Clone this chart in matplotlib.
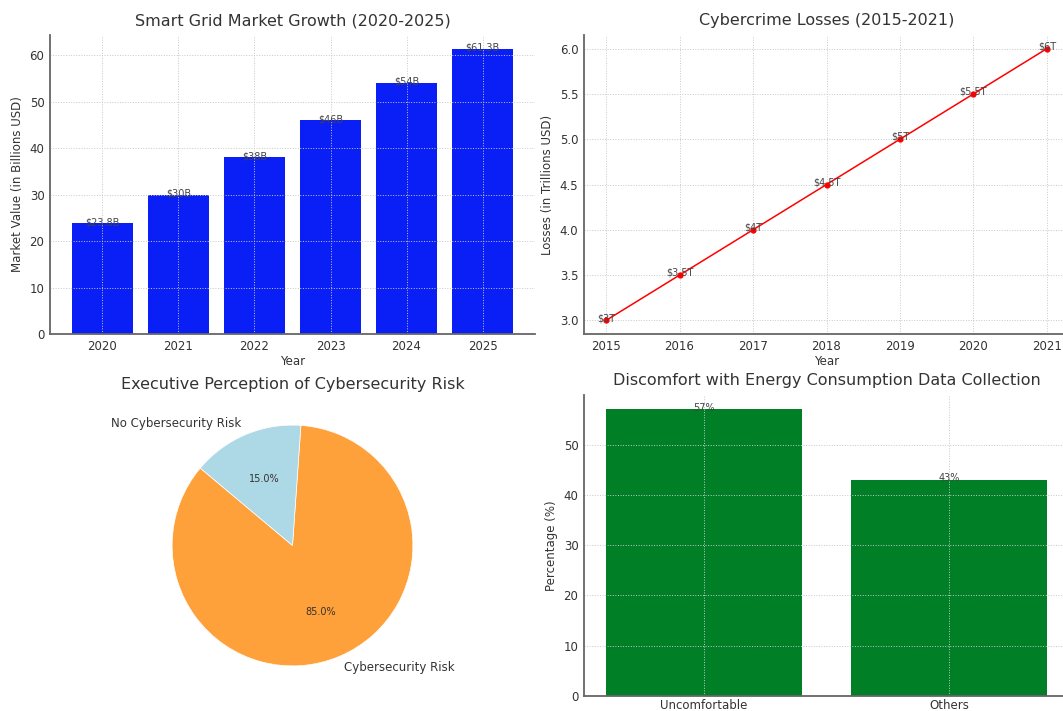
import numpy as np
import matplotlib
matplotlib.use("Agg")
import matplotlib.pyplot as plt

# data
market_years = ['2020', '2021', '2022', '2023', '2024', '2025']
market_values = [23.8, 30, 38, 46, 54, 61.3]
market_labels = ['$23.8B', '$30B', '$38B', '$46B', '$54B', '$61.3B']

loss_years = [2015, 2016, 2017, 2018, 2019, 2020, 2021]
loss_values = [3.0, 3.5, 4.0, 4.5, 5.0, 5.5, 6.0]
loss_labels = ['$3T', '$3.5T', '$4T', '$4.5T', '$5T', '$5.5T', '$6T']

risk_labels = ['Cybersecurity Risk', 'No Cybersecurity Risk']
risk_sizes = [85, 15]
risk_colors = ['#ffa13a', '#add8e6']

comfort_labels = ['Uncomfortable', 'Others']
comfort_values = [57, 43]
comfort_text = ['57%', '43%']

plt.rcParams['font.family'] = ['DejaVu Sans']
plt.rcParams['text.color'] = '#333333'
plt.rcParams['axes.labelcolor'] = '#333333'
plt.rcParams['xtick.color'] = '#333333'
plt.rcParams['ytick.color'] = '#333333'

W, H = 1063, 711
fig = plt.figure(figsize=(W / 100, H / 100), dpi=100)


def px_axes(x0, y0, x1, y1):
    # pixel box (left, top, right, bottom) -> figure axes
    return fig.add_axes([x0 / W, 1 - y1 / H, (x1 - x0) / W, (y1 - y0) / H])


def style(ax):
    ax.spines['top'].set_visible(False)
    ax.spines['right'].set_visible(False)
    for s in ['left', 'bottom']:
        ax.spines[s].set_color('#666666')
        ax.spines[s].set_linewidth(1.3)
    ax.grid(True, linestyle=':', color='#c8c8c8', linewidth=0.7)
    ax.tick_params(length=0, labelsize=8.5, pad=4)


# top left: market growth
ax1 = px_axes(50, 35, 535, 334)
ax1.bar(market_years, market_values, color='#0a1ff5', width=0.8)
for i, (v, t) in enumerate(zip(market_values, market_labels)):
    ax1.text(i, v - 0.8, t, ha='center', va='bottom', fontsize=7, color='#444444')
ax1.set_title('Smart Grid Market Growth (2020-2025)', fontsize=11.5, pad=7)
ax1.set_xlabel('Year', fontsize=8.5, labelpad=2)
ax1.set_ylabel('Market Value (in Billions USD)', fontsize=8.5, labelpad=4)
style(ax1)

# top right: cybercrime losses
ax2 = px_axes(584, 35, 1069, 334)
ax2.plot(loss_years, loss_values, color='red', marker='o', markersize=3.5, linewidth=1.1)
for x, v, t in zip(loss_years, loss_values, loss_labels):
    ax2.text(x, v - 0.03, t, ha='center', va='bottom', fontsize=7, color='#444444')
ax2.set_title('Cybercrime Losses (2015-2021)', fontsize=11.5, pad=7)
ax2.set_xlabel('Year', fontsize=8.5, labelpad=2)
ax2.set_ylabel('Losses (in Trillions USD)', fontsize=8.5, labelpad=4)
style(ax2)

# bottom left: pie
ax3 = px_axes(50, 395, 535, 696)
ax3.pie(risk_sizes, labels=risk_labels, colors=risk_colors, autopct='%1.1f%%',
        startangle=140, textprops={'fontsize': 8.5},
        wedgeprops={'edgecolor': 'white', 'linewidth': 0.5})
for t in ax3.texts:
    if '%' in t.get_text():
        t.set_fontsize(7)
ax3.set_title('Executive Perception of Cybersecurity Risk', fontsize=11.5, pad=4)

# bottom right: discomfort
ax4 = px_axes(584, 395, 1069, 696)
ax4.bar(comfort_labels, comfort_values, color='#007f27', width=0.8)
for i, (v, t) in enumerate(zip(comfort_values, comfort_text)):
    ax4.text(i, v - 0.7, t, ha='center', va='bottom', fontsize=7, color='#444444')
ax4.set_title('Discomfort with Energy Consumption Data Collection', fontsize=11.5, pad=7)
ax4.set_ylabel('Percentage (%)', fontsize=8.5, labelpad=4)
style(ax4)
ax4.tick_params(axis='x', pad=2)

fig.savefig('out.png', dpi=100)
